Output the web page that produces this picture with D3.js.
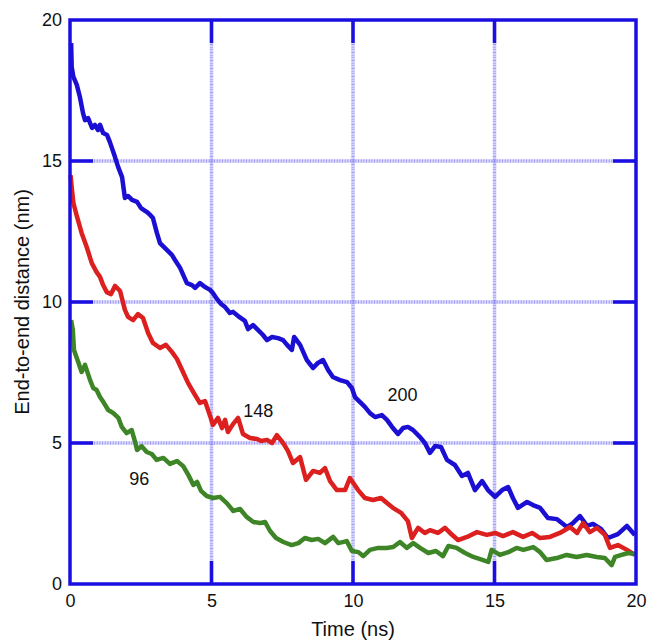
<!DOCTYPE html>
<html>
<head>
<meta charset="utf-8">
<script src="https://cdn.jsdelivr.net/npm/d3@7"></script>
<style>
  body { margin: 0; background: #fff; }
  text { font-family: "Liberation Sans", Arial, sans-serif; fill: #111; }
</style>
</head>
<body>
<div id="chart"></div>
<script>
// end-to-end distance traces
var t200 = [0.04,0.06,0.12,0.24,0.35,0.46,0.53,0.64,0.78,0.88,0.99,1.06,1.17,1.31,1.41,1.59,1.70,1.84,1.94,2.05,2.19,2.37,2.51,2.72,2.83,2.93,3.07,3.18,3.43,3.60,3.71,3.89,4.13,4.31,4.42,4.59,4.77,4.95,5.05,5.19,5.34,5.48,5.65,5.76,5.94,6.18,6.29,6.47,6.64,6.82,6.96,7.14,7.35,7.53,7.67,7.84,7.92,8.13,8.37,8.59,8.76,8.94,9.12,9.29,9.54,9.79,9.96,10.07,10.25,10.42,10.60,10.78,11.02,11.20,11.38,11.59,11.77,11.94,12.12,12.37,12.54,12.72,12.90,13.11,13.32,13.60,13.85,14.06,14.31,14.56,14.77,15.02,15.27,15.48,15.65,15.83,16.15,16.36,16.61,16.89,17.21,17.56,17.77,18.02,18.27,18.48,18.76,19.01,19.36,19.68,19.96];
var d200 = [19.18,18.33,17.98,17.70,17.27,16.70,16.45,16.52,16.17,16.28,16.10,16.28,15.99,15.92,15.67,15.14,14.79,14.43,13.69,13.76,13.62,13.55,13.33,13.19,13.09,12.98,12.45,12.09,11.84,11.67,11.49,11.21,10.67,10.60,10.50,10.67,10.53,10.43,10.32,10.11,9.93,9.82,9.61,9.65,9.50,9.33,9.04,9.18,9.01,8.83,8.65,8.76,8.72,8.65,8.48,8.30,8.76,8.48,7.94,7.66,7.84,7.94,7.59,7.34,7.23,7.16,6.95,6.63,6.45,6.28,6.06,5.92,5.99,5.82,5.57,5.32,5.53,5.57,5.46,5.21,5.00,4.65,4.89,4.86,4.40,4.22,3.83,3.94,3.33,3.65,3.33,3.09,3.33,3.44,3.05,2.70,2.91,2.80,2.70,2.34,2.30,2.02,2.16,2.41,2.06,2.13,1.95,1.63,1.77,2.06,1.74];

var t148 = [0.02,0.07,0.12,0.24,0.32,0.41,0.59,0.77,0.94,1.06,1.17,1.30,1.45,1.59,1.77,1.94,2.05,2.23,2.40,2.58,2.76,2.93,3.18,3.39,3.60,3.78,3.96,4.17,4.42,4.59,4.77,4.95,5.05,5.23,5.37,5.48,5.58,5.76,5.94,6.11,6.36,6.61,6.75,6.96,7.14,7.31,7.53,7.70,7.88,8.13,8.34,8.59,8.83,9.01,9.19,9.43,9.72,9.89,10.18,10.42,10.71,10.99,11.20,11.41,11.70,11.94,12.08,12.30,12.54,12.72,13.00,13.25,13.43,13.71,14.03,14.38,14.73,15.02,15.30,15.65,16.01,16.33,16.61,16.96,17.31,17.67,17.92,18.13,18.37,18.62,18.90,19.08,19.36,19.68,19.96];
var d148 = [14.50,13.97,13.51,13.05,12.77,12.45,11.95,11.38,11.06,10.89,10.60,10.35,10.28,10.57,10.39,9.72,9.47,9.36,9.57,9.43,8.90,8.55,8.37,8.48,8.23,7.98,7.59,7.13,6.70,6.42,6.49,5.96,5.64,5.89,5.53,5.82,5.39,5.67,5.89,5.32,5.18,5.14,5.07,5.11,5.00,5.28,5.00,4.72,4.29,4.50,3.69,4.01,3.94,4.11,3.65,3.33,3.33,3.76,3.33,3.05,2.98,3.05,2.87,2.70,2.52,2.23,1.63,1.99,1.81,1.91,1.81,1.99,1.81,1.56,1.67,1.84,1.74,1.81,1.70,1.84,1.67,1.81,1.63,1.67,1.81,2.02,1.81,2.16,1.84,1.99,1.74,1.28,1.38,1.21,1.03];

var t96 = [0.04,0.10,0.14,0.29,0.41,0.53,0.71,0.82,0.94,1.06,1.18,1.35,1.53,1.71,1.83,2.00,2.18,2.30,2.37,2.53,2.71,2.89,3.06,3.30,3.53,3.78,4.00,4.18,4.36,4.49,4.63,4.83,5.06,5.30,5.54,5.77,6.01,6.24,6.48,6.71,6.89,7.07,7.28,7.54,7.83,8.07,8.30,8.54,8.77,9.01,9.30,9.48,9.78,9.96,10.19,10.36,10.60,10.89,11.19,11.42,11.66,11.90,12.13,12.37,12.66,12.93,13.18,13.37,13.66,13.96,14.25,14.60,14.78,14.90,15.19,15.49,15.78,16.02,16.37,16.61,16.84,17.20,17.55,17.90,18.26,18.61,18.90,19.14,19.26,19.49,19.73,19.96];
var d96 = [9.36,9.01,8.30,7.87,7.52,7.77,7.23,6.95,6.88,6.63,6.45,6.17,6.06,5.89,5.57,5.35,5.46,5.04,4.75,4.89,4.68,4.61,4.40,4.47,4.26,4.36,4.18,3.87,3.51,3.62,3.30,3.12,3.05,3.09,2.87,2.59,2.66,2.38,2.20,2.16,2.20,1.88,1.63,1.49,1.38,1.45,1.63,1.56,1.60,1.45,1.67,1.45,1.52,1.17,1.13,0.99,1.21,1.28,1.28,1.31,1.49,1.28,1.45,1.28,1.10,1.17,0.99,1.35,1.28,1.10,0.96,0.85,0.78,1.21,1.03,1.13,1.28,1.21,1.31,1.13,0.85,0.92,1.03,0.96,1.03,0.96,0.92,0.67,0.96,1.03,1.10,1.06];

var seriesNames = ["200", "148", "96"];
var seriesColors = ["#1a0fd2", "#dc1f1f", "#3d8526"];
var labelTimes = [11.75, 6.65, 2.45];
var labelDists = [6.7, 6.15, 3.75];

var xTicks = [0, 5, 10, 15, 20];
var yTicks = [0, 5, 10, 15, 20];

var canvasWidth = 649, canvasHeight = 641;
var margin = {left: 70, top: 20, right: 13, bottom: 57};
var width = canvasWidth - margin.left - margin.right;
var height = canvasHeight - margin.top - margin.bottom;
var frameColor = "#1a0fe0";

var svg = d3.select("#chart").append("svg")
    .attr("width", canvasWidth)
    .attr("height", canvasHeight);

var xScale = d3.scaleLinear().domain([0, 20]).range([0, width]);
var yScale = d3.scaleLinear().domain([0, 20]).range([height, 0]);

var g = svg.append("g")
    .attr("transform", "translate(" + margin.left + "," + margin.top + ")");

// dotted light grid
var inner = xTicks.slice(1, -1);
g.selectAll(".vgrid").data(inner).enter().append("line")
    .attr("x1", d => xScale(d)).attr("x2", d => xScale(d))
    .attr("y1", 0).attr("y2", height)
    .attr("stroke", "#7a74f4").attr("stroke-width", 3.5)
    .attr("stroke-dasharray", "1,0.6").attr("opacity", 0.7);
g.selectAll(".hgrid").data(yTicks.slice(1, -1)).enter().append("line")
    .attr("y1", d => yScale(d)).attr("y2", d => yScale(d))
    .attr("x1", 0).attr("x2", width)
    .attr("stroke", "#7a74f4").attr("stroke-width", 3.5)
    .attr("stroke-dasharray", "1,0.6").attr("opacity", 0.7);

// solid tick stubs on all four sides
var tl = 23;
inner.forEach(function(d) {
    g.append("line").attr("x1", xScale(d)).attr("x2", xScale(d)).attr("y1", height).attr("y2", height - tl)
        .attr("stroke", frameColor).attr("stroke-width", 3.5);
    g.append("line").attr("x1", xScale(d)).attr("x2", xScale(d)).attr("y1", 0).attr("y2", tl)
        .attr("stroke", frameColor).attr("stroke-width", 3.5);
});
yTicks.slice(1, -1).forEach(function(d) {
    g.append("line").attr("y1", yScale(d)).attr("y2", yScale(d)).attr("x1", 0).attr("x2", tl)
        .attr("stroke", frameColor).attr("stroke-width", 3.5);
    g.append("line").attr("y1", yScale(d)).attr("y2", yScale(d)).attr("x1", width).attr("x2", width - tl)
        .attr("stroke", frameColor).attr("stroke-width", 3.5);
});

// traces
var line = d3.line()
    .x(d => xScale(d[0]))
    .y(d => yScale(d[1]));

var traces = [d3.zip(t200, d200), d3.zip(t148, d148), d3.zip(t96, d96)];
traces.forEach(function(data, i) {
    g.append("path")
        .datum(data)
        .attr("fill", "none")
        .attr("stroke", seriesColors[i])
        .attr("stroke-width", 4.5)
        .attr("stroke-linejoin", "round")
        .attr("d", line);
});

// frame
g.append("rect")
    .attr("x", 0).attr("y", 0)
    .attr("width", width).attr("height", height)
    .attr("fill", "none")
    .attr("stroke", frameColor)
    .attr("stroke-width", 3.5);

// axis tick labels
var xAxis = g.append("g")
    .attr("transform", "translate(0," + height + ")")
    .call(d3.axisBottom(xScale).tickValues(xTicks).tickSize(0).tickPadding(10));
var yAxis = g.append("g")
    .call(d3.axisLeft(yScale).tickValues(yTicks).tickSize(0).tickPadding(8));
[xAxis, yAxis].forEach(function(a) {
    a.select(".domain").remove();
    a.selectAll("text").attr("font-size", "18px")
        .attr("font-family", "'Liberation Sans', Arial, sans-serif").attr("fill", "#111");
});

// series labels
seriesNames.forEach(function(name, i) {
    g.append("text")
        .attr("x", xScale(labelTimes[i]))
        .attr("y", yScale(labelDists[i]))
        .attr("text-anchor", "middle")
        .attr("dy", "0.35em")
        .attr("font-size", "18px")
        .text(name);
});

// axis titles
svg.append("text")
    .attr("x", margin.left + width / 2)
    .attr("y", 636)
    .attr("text-anchor", "middle")
    .attr("font-size", "20px")
    .text("Time (ns)");

svg.append("text")
    .attr("transform", "translate(29," + (margin.top + height / 2) + ") rotate(-90)")
    .attr("text-anchor", "middle")
    .attr("font-size", "20px")
    .text("End-to-end distance (nm)");
</script>
</body>
</html>
